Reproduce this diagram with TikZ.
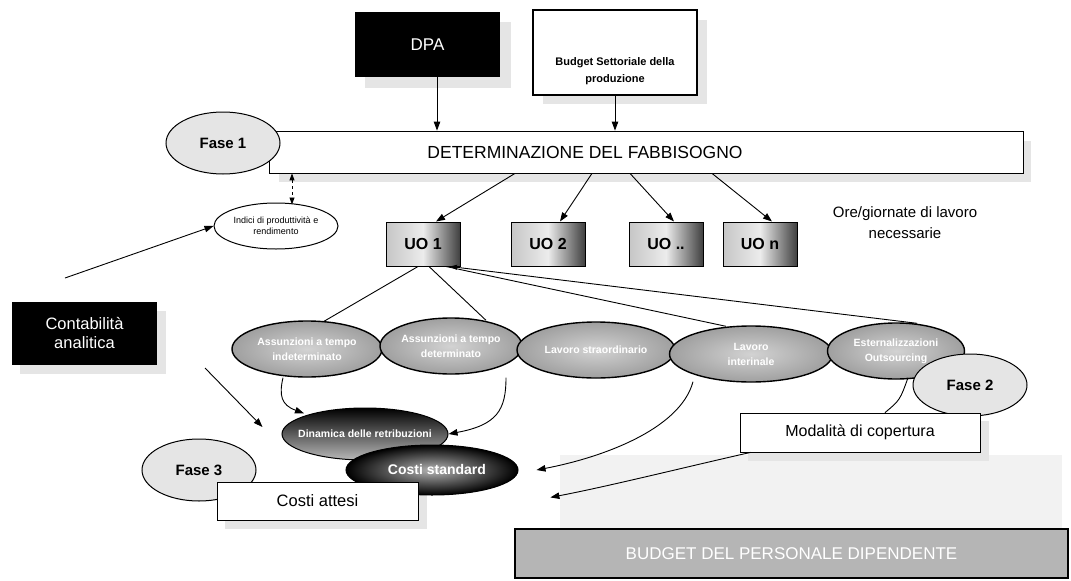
\documentclass[tikz,border=0pt]{standalone}
\usepackage{fontspec}
\setmainfont{Liberation Sans}
\usetikzlibrary{shapes.geometric,arrows.meta,calc}

\tikzset{
  box/.style={draw=black, line width=0.8pt, fill=white, inner sep=0pt},
  darkbox/.style={fill=black, text=white, inner sep=0pt, align=center},
  shadowfill/.style={fill=gray!20},
  fase/.style={ellipse, draw=black, line width=1pt, fill=gray!20, inner sep=0pt,
    minimum width=114pt, minimum height=62pt, font=\fontsize{15}{17}\selectfont\bfseries},
  uobox/.style={draw=black, line width=1pt, inner sep=0pt, minimum width=74pt, minimum height=44pt,
    left color=gray!45, right color=black!75, middle color=gray!15,
    font=\fontsize{16}{18}\selectfont\bfseries},
  option/.style={ellipse, draw=black, line width=1.4pt, inner sep=0pt, minimum height=56pt,
    inner color=gray!35, outer color=gray!75, text=white, align=center,
    font=\fontsize{10.5}{15}\selectfont\bfseries},
  arr/.style={-{Triangle[length=9pt,width=6.5pt]}, line width=0.9pt},
  link/.style={line width=0.9pt},
}

\begin{document}
\begin{tikzpicture}[x=1pt,y=-1pt]
\useasboundingbox (0,0) rectangle (1071,581);
\fill[white] (0,0) rectangle (1071,581);

% halftone shadows behind the boxes
\fill[shadowfill] (365,22) rectangle (511,88);
\fill[shadowfill] (543,20) rectangle (707,104);
\fill[shadowfill] (279,141) rectangle (1031,182);
\fill[shadowfill] (20,311) rectangle (166,374);
\fill[gray!10] (560,455) rectangle (1062,529);
\fill[shadowfill] (748,421) rectangle (989,461);
\fill[shadowfill] (225,490) rectangle (427,529);

% sources
\node[darkbox, minimum width=145pt, minimum height=65pt, font=\fontsize{17}{19}\selectfont] (dpa) at (427.5,44.5) {DPA};
\node[box, line width=2.2pt, minimum width=164pt, minimum height=85pt] (bud) at (615,52.5) {};
\node[align=center, font=\fontsize{11}{17}\selectfont\bfseries] (budtxt) at (615,71) {Budget Settoriale della\\produzione};

% phase 1
\node[box, minimum width=754pt, minimum height=42pt] (det) at (646,152) {};
\node[font=\fontsize{17.5}{19}\selectfont] (dettxt) at (585,152) {DETERMINAZIONE DEL FABBISOGNO};
\node[fase] (f1) at (223,143) {Fase 1};

\coordinate (dpaout) at ($(dpa.south)+(9.5,0)$);
\draw[arr] (dpaout) -- (dpaout |- det.north);
\draw[arr] (bud.south) -- (bud.south |- det.north);

\node[ellipse, draw=black, line width=1pt, fill=white, inner sep=0pt, minimum width=124pt, minimum height=46pt,
  align=center, font=\fontsize{9}{11}\selectfont] (ind) at (276,226) {Indici di produttività e\\rendimento};
\draw[dashed, line width=0.9pt, {Triangle[length=7pt,width=5pt]}-{Triangle[length=7pt,width=5pt]}]
  ($(det.south -| ind.north)+(16,0)$) -- ($(ind.north)+(16,2)$);

% organisational units
\node[uobox] (uo1) at (423,244) {UO 1};
\node[uobox] (uo2) at (548,244) {UO 2};
\node[uobox] (uo3) at (666,244) {UO ..};
\node[uobox] (uo4) at (760,244) {UO n};
\draw[arr] (det.south -| 515,0) -- ($(uo1.north)+(13,0)$);
\draw[arr] (det.south -| 592,0) -- ($(uo2.north)+(12,0)$);
\draw[arr] (det.south -| 630,0) -- ($(uo3.north)+(8,0)$);
\draw[arr] (det.south -| 712,0) -- ($(uo4.north)+(12,0)$);

\node[align=center, font=\fontsize{15}{21}\selectfont] (ore) at (905,223) {Ore/giornate di lavoro\\necessarie};

% accounting
\node[darkbox, minimum width=145pt, minimum height=63pt, font=\fontsize{16.5}{19}\selectfont] (cont) at (84.5,333.5) {Contabilità\\analitica};
\coordinate (c1) at (65,278);
\coordinate (c2) at (205,368);
\draw[arr] (c1) -- (ind.west);

% coverage options
\node[option, minimum width=150pt] (e1) at (307,349) {Assunzioni a tempo\\indeterminato};
\node[option, minimum width=142pt] (e2) at (451,346) {Assunzioni a tempo\\determinato};
\node[option, minimum width=158pt] (e3) at (596,350) {Lavoro straordinario};
\node[option, minimum width=163pt] (e4) at (751,354) {Lavoro\\interinale};
\node[option, minimum width=137pt] (e5) at (896,351) {Esternalizzazioni\\Outsourcing};
\node[fase] (f2) at (970,385) {Fase 2};

\draw[link] ($(uo1.south)+(-5,0)$) -- ($(e1.north)+(17,1)$);
\draw[link] ($(uo1.south)+(6,0)$) -- ($(e2.north)+(35,3)$);
\draw[link] ($(uo1.south)+(23,0)$) -- ($(e4.north)+(-25,1)$);
\draw[link, {Triangle[length=7pt,width=5pt]}-] ($(uo1.south)+(27,0)$) -- ($(e5.north)+(21,1)$);

% costs
\node[ellipse, draw=black, line width=1pt, inner sep=0pt, minimum width=166pt, minimum height=52pt,
  top color=black, bottom color=gray!55] (din) at (365,434) {};
\node[text=white, font=\fontsize{10.5}{12}\selectfont\bfseries] (dintxt) at (din.center) {Dinamica delle retribuzioni};
\node[ellipse, draw=black, line width=1pt, inner sep=0pt, minimum width=172pt, minimum height=50pt,
  inner color=gray!60, outer color=black] (std) at (432,470) {};
\node[text=white, font=\fontsize{14}{16}\selectfont\bfseries] (stdtxt) at ($(std.center)+(5,-1)$) {Costi standard};

\node[fase] (f3) at (199,470) {Fase 3};
\node[box, minimum width=201pt, minimum height=38pt, font=\fontsize{16.5}{18}\selectfont] (att) at (317.5,501) {Costi attesi};

\node[box, minimum width=240pt, minimum height=39pt, font=\fontsize{16}{18}\selectfont] (mod) at (860,432.5) {Modalità di copertura};

\node[draw=black, line width=1.2pt, fill=gray!58, inner sep=0pt, minimum width=553pt, minimum height=49pt,
  text=white, font=\fontsize{17}{19}\selectfont] (bp) at (791.5,553.5) {BUDGET DEL PERSONALE DIPENDENTE};

% flows towards the costs
\draw[arr] (c2) -- ($(din.west)+(-19,-7)$);
\draw[arr] ($(e1.south)+(-24,0)$) .. controls (279,395) and (281,405) .. ($(din.north west)+(-2,-2)$);
\draw[arr] ($(e2.south)+(55,3)$) .. controls (506,410) and (497,425) .. (din.east);
\draw[arr] ($(e4.south)+(-58,-1)$) .. controls (680,430) and (600,458) .. ($(std.east)+(18,0)$);
\draw[arr] ($(mod.south west)+(11,0)$) .. controls (690,466) and (610,486) .. ($(bp.north west)+(36,-31)$);
\draw[link] ($(e5.south)+(12,-2)$) .. controls (900,400) .. ($(mod.north)+(25,0)$);
\end{tikzpicture}
\end{document}
